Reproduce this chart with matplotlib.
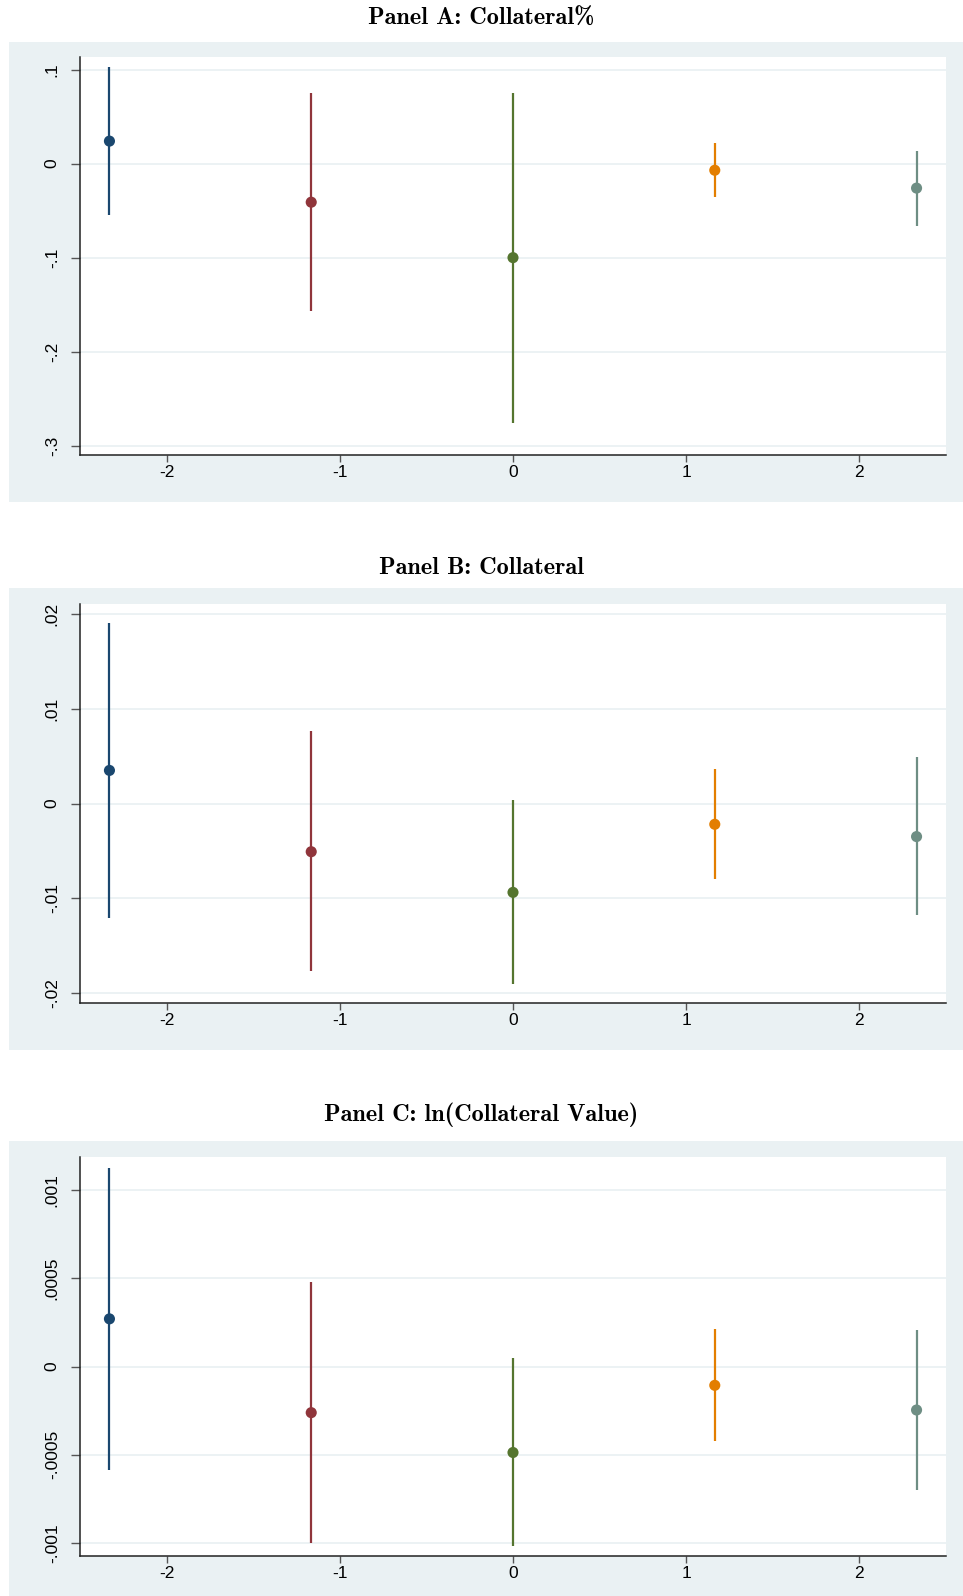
import matplotlib
matplotlib.use("Agg")
import matplotlib.pyplot as plt
from matplotlib.patches import Rectangle

# --------- Дані ---------
positions = [-2.33, -1.165, 0.0, 1.165, 2.33]
colors = ["#1a476f", "#90353b", "#55752f", "#e37e00", "#6e8e84"]
x_ticks = [-2, -1, 0, 1, 2]
x_labels = ["-2", "-1", "0", "1", "2"]

titles = [
    "Panel A: Collateral%",
    "Panel B: Collateral",
    "Panel C: ln(Collateral Value)",
]

coef_a = [0.024, -0.041, -0.100, -0.007, -0.026]
lo_a = [-0.055, -0.157, -0.276, -0.035, -0.066]
hi_a = [0.103, 0.075, 0.075, 0.022, 0.0135]
yticks_a = [0.1, 0.0, -0.1, -0.2, -0.3]
ylabels_a = [".1", "0", "-.1", "-.2", "-.3"]

coef_b = [0.0035, -0.0051, -0.0094, -0.0022, -0.0035]
lo_b = [-0.0121, -0.0177, -0.0191, -0.0080, -0.0118]
hi_b = [0.0191, 0.0077, 0.0004, 0.0037, 0.0049]
yticks_b = [0.02, 0.01, 0.0, -0.01, -0.02]
ylabels_b = [".02", ".01", "0", "-.01", "-.02"]

coef_c = [0.000271, -0.000261, -0.000487, -0.000106, -0.000246]
lo_c = [-0.000587, -0.0010, -0.001017, -0.000422, -0.000697]
hi_c = [0.001129, 0.000479, 0.0000473, 0.000212, 0.000205]
yticks_c = [0.001, 0.0005, 0.0, -0.0005, -0.001]
ylabels_c = [".001", ".0005", "0", "-.0005", "-.001"]

W, H = 963, 1596
BG = "#eaf1f3"


def px_box(x0, y0, x1, y1):
    # пікселі -> частки фігури
    return [x0 / W, 1 - y1 / H, (x1 - x0) / W, (y1 - y0) / H]


def main():
    plt.rcParams["font.family"] = ["Liberation Sans", "DejaVu Sans"]

    fig = plt.figure(figsize=(W / 100, H / 100), dpi=100)

    panels = [
        (coef_a, lo_a, hi_a, yticks_a, ylabels_a, (-0.310, 0.1135),
         19, (42, 502), (57, 455)),
        (coef_b, lo_b, hi_b, yticks_b, ylabels_b, (-0.0211, 0.0211),
         568, (588, 1050), (604, 1003)),
        (coef_c, lo_c, hi_c, yticks_c, ylabels_c, (-0.001074, 0.001189),
         1115, (1141, 1596), (1157, 1556)),
    ]

    for i, (coef, lo, hi, yt, yl, ylim, ty, gray, area) in enumerate(panels):
        gx = px_box(9, gray[0], 963, gray[1])
        fig.patches.append(Rectangle((gx[0], gx[1]), gx[2], gx[3],
                                     transform=fig.transFigure,
                                     facecolor=BG, edgecolor="none", zorder=-5))
        fig.text(0.5, 1 - ty / H, titles[i], ha="center", va="center",
                 fontsize=17.5, family="cmb10")

        ax = fig.add_axes(px_box(80, area[0], 946, area[1]))
        ax.set_zorder(2)
        ax.set_facecolor("white")
        ax.set_xlim(-2.5, 2.5)
        ax.set_ylim(*ylim)
        ax.set_yticks(yt)
        ax.set_yticklabels(yl, rotation=90, va="center")
        ax.set_xticks(x_ticks)
        ax.set_xticklabels(x_labels)
        ax.yaxis.grid(True, color=BG, linewidth=1.3)
        ax.set_axisbelow(True)
        for s in ["top", "right"]:
            ax.spines[s].set_visible(False)
        for s in ["left", "bottom"]:
            ax.spines[s].set_color("#222222")
            ax.spines[s].set_linewidth(1.1)
        ax.tick_params(axis="y", length=6.5, width=1, color="#555555",
                       labelsize=12.5, pad=8)
        ax.tick_params(axis="x", length=5, width=1, color="#555555",
                       labelsize=12.5, pad=2)

        ax.vlines(positions, lo, hi, colors=colors, linewidth=1.6, zorder=2)
        ax.scatter(positions, coef, c=colors, s=64, zorder=3, edgecolors="none")

    fig.savefig("out.png", dpi=100)


if __name__ == "__main__":
    main()
